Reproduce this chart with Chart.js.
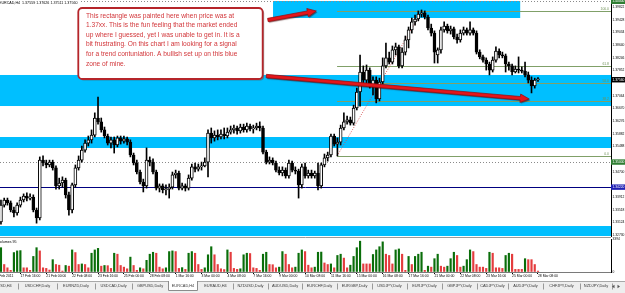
<!DOCTYPE html>
<html>
<head>
<meta charset="utf-8">
<title>EURCAD,H4</title>
<script src="https://cdn.jsdelivr.net/npm/chart.js@4.4.1/dist/chart.umd.min.js"></script>
<style>
  html, body { margin: 0; padding: 0; background: #fff; }
  #wrap { position: relative; width: 625px; height: 293px; overflow: hidden; background: #fff; }
  #wrap canvas { position: absolute; left: 0; }
  #price { top: 0; }
  #volume { top: 237px; }
  #tabs { top: 281px; }
</style>
</head>
<body>
<div id="wrap">
  <canvas id="price" width="625" height="237"></canvas>
  <canvas id="volume" width="625" height="44"></canvas>
  <canvas id="tabs" width="625" height="12"></canvas>
</div>
<script>
// EURCAD H4 bars, 16 Feb 16:00 -> 28 Mar 08:00 2011
const opens = [
  1.3314, 1.3366, 1.3382, 1.3373, 1.3351, 1.3342, 1.3366, 1.3382, 1.3394, 1.3388,
  1.3391, 1.3351, 1.3326, 1.3506, 1.3497, 1.3491, 1.3500, 1.3482, 1.3426, 1.3435,
  1.3444, 1.3398, 1.3351, 1.3429, 1.3482, 1.3506, 1.3537, 1.3559, 1.3569, 1.3584,
  1.3637, 1.3625, 1.3600, 1.3581, 1.3559, 1.3569, 1.3553, 1.3575, 1.3565, 1.3572,
  1.3562, 1.3522, 1.3497, 1.3469, 1.3438, 1.3426, 1.3506, 1.3500, 1.3469, 1.3419,
  1.3426, 1.3413, 1.3416, 1.3422, 1.3460, 1.3466, 1.3419, 1.3426, 1.3419, 1.3450,
  1.3485, 1.3478, 1.3485, 1.3488, 1.3500, 1.3590, 1.3575, 1.3584, 1.3578, 1.3587,
  1.3581, 1.3593, 1.3600, 1.3606, 1.3597, 1.3609, 1.3600, 1.3612, 1.3603, 1.3606,
  1.3612, 1.3606, 1.3531, 1.3500, 1.3506, 1.3497, 1.3475, 1.3466, 1.3475, 1.3457,
  1.3497, 1.3475, 1.3472, 1.3429, 1.3485, 1.3457, 1.3466, 1.3457, 1.3466, 1.3426,
  1.3491, 1.3513, 1.3522, 1.3581, 1.3556, 1.3562, 1.3606, 1.3625, 1.3631, 1.3621,
  1.3668, 1.3718, 1.3780, 1.3755, 1.3786, 1.3740, 1.3755, 1.3696, 1.3749, 1.3799,
  1.3824, 1.3811, 1.3849, 1.3858, 1.3799, 1.3842, 1.3880, 1.3911, 1.3936, 1.3945,
  1.3960, 1.3964, 1.3951, 1.3917, 1.3901, 1.3833, 1.3849, 1.3911, 1.3923, 1.3908,
  1.3914, 1.3889, 1.3880, 1.3901, 1.3911, 1.3901, 1.3911, 1.3901, 1.3842, 1.3827,
  1.3817, 1.3805, 1.3786, 1.3817, 1.3845, 1.3833, 1.3830, 1.3805, 1.3799, 1.3780,
  1.3789, 1.3786, 1.3783, 1.3771, 1.3755, 1.3737, 1.37559
];
const highs = [
  1.3382, 1.3388, 1.3388, 1.3379, 1.3360, 1.3373, 1.3391, 1.3401, 1.3404, 1.3401,
  1.3398, 1.3357, 1.3516, 1.3519, 1.3506, 1.3506, 1.3506, 1.3488, 1.3450, 1.3454,
  1.3450, 1.3407, 1.3435, 1.3491, 1.3519, 1.3550, 1.3569, 1.3581, 1.3600, 1.3653,
  1.3702, 1.3637, 1.3609, 1.3587, 1.3578, 1.3578, 1.3581, 1.3581, 1.3581, 1.3578,
  1.3569, 1.3528, 1.3506, 1.3475, 1.3447, 1.3544, 1.3516, 1.3510, 1.3475, 1.3432,
  1.3432, 1.3429, 1.3432, 1.3469, 1.3475, 1.3472, 1.3435, 1.3432, 1.3460, 1.3494,
  1.3497, 1.3494, 1.3500, 1.3513, 1.3600, 1.3606, 1.3597, 1.3600, 1.3600, 1.3606,
  1.3606, 1.3612, 1.3615, 1.3612, 1.3618, 1.3618, 1.3621, 1.3618, 1.3615, 1.3621,
  1.3625, 1.3612, 1.3537, 1.3516, 1.3513, 1.3503, 1.3485, 1.3485, 1.3482, 1.3506,
  1.3503, 1.3485, 1.3478, 1.3494, 1.3497, 1.3475, 1.3475, 1.3472, 1.3497, 1.3497,
  1.3525, 1.3531, 1.3587, 1.3587, 1.3575, 1.3615, 1.3653, 1.3643, 1.3640, 1.3677,
  1.3730, 1.3833, 1.3799, 1.3802, 1.3793, 1.3765, 1.3765, 1.3761, 1.3824, 1.3870,
  1.3842, 1.3861, 1.3870, 1.3864, 1.3855, 1.3892, 1.3920, 1.3948, 1.3957, 1.3970,
  1.3973, 1.3970, 1.3957, 1.3929, 1.3908, 1.3855, 1.3920, 1.3936, 1.3929, 1.3923,
  1.3920, 1.3898, 1.3911, 1.3920, 1.3917, 1.3936, 1.3917, 1.3908, 1.3849, 1.3833,
  1.3824, 1.3811, 1.3827, 1.3858, 1.3852, 1.3842, 1.3836, 1.3811, 1.3805, 1.3799,
  1.3827, 1.3796, 1.3811, 1.3780, 1.3765, 1.3761, 1.37626
];
const lows = [
  1.3307, 1.3360, 1.3366, 1.3345, 1.3329, 1.3335, 1.3360, 1.3376, 1.3379, 1.3382,
  1.3345, 1.3310, 1.3320, 1.3488, 1.3482, 1.3485, 1.3475, 1.3416, 1.3416, 1.3422,
  1.3388, 1.3335, 1.3342, 1.3422, 1.3475, 1.3500, 1.3531, 1.3550, 1.3559, 1.3578,
  1.3618, 1.3593, 1.3575, 1.3553, 1.3544, 1.3528, 1.3547, 1.3556, 1.3559, 1.3553,
  1.3516, 1.3491, 1.3463, 1.3432, 1.3407, 1.3419, 1.3488, 1.3463, 1.3413, 1.3407,
  1.3404, 1.3398, 1.3388, 1.3416, 1.3450, 1.3413, 1.3413, 1.3410, 1.3413, 1.3444,
  1.3469, 1.3472, 1.3475, 1.3485, 1.3454, 1.3559, 1.3565, 1.3569, 1.3572, 1.3572,
  1.3575, 1.3587, 1.3590, 1.3587, 1.3590, 1.3593, 1.3593, 1.3597, 1.3590, 1.3600,
  1.3597, 1.3525, 1.3494, 1.3494, 1.3491, 1.3469, 1.3460, 1.3457, 1.3450, 1.3450,
  1.3469, 1.3463, 1.3388, 1.3419, 1.3450, 1.3450, 1.3450, 1.3450, 1.3413, 1.3419,
  1.3485, 1.3503, 1.3516, 1.3550, 1.3519, 1.3553, 1.3600, 1.3618, 1.3615, 1.3615,
  1.3662, 1.3674, 1.3746, 1.3746, 1.3730, 1.3709, 1.3684, 1.3690, 1.3743, 1.3793,
  1.3805, 1.3805, 1.3833, 1.3793, 1.3793, 1.3833, 1.3855, 1.3901, 1.3926, 1.3939,
  1.3951, 1.3945, 1.3911, 1.3892, 1.3808, 1.3808, 1.3839, 1.3904, 1.3901, 1.3898,
  1.3883, 1.3870, 1.3873, 1.3895, 1.3895, 1.3895, 1.3895, 1.3836, 1.3821, 1.3811,
  1.3786, 1.3771, 1.3780, 1.3811, 1.3824, 1.3824, 1.3780, 1.3786, 1.3771, 1.3777,
  1.3777, 1.3777, 1.3765, 1.3746, 1.3715, 1.3730, 1.37511
];
const closes = [
  1.3366, 1.3382, 1.3373, 1.3351, 1.3342, 1.3366, 1.3382, 1.3394, 1.3388, 1.3391,
  1.3351, 1.3326, 1.3506, 1.3497, 1.3491, 1.3500, 1.3482, 1.3426, 1.3435, 1.3444,
  1.3398, 1.3351, 1.3429, 1.3482, 1.3506, 1.3537, 1.3559, 1.3569, 1.3584, 1.3637,
  1.3625, 1.3600, 1.3581, 1.3559, 1.3569, 1.3553, 1.3575, 1.3565, 1.3572, 1.3562,
  1.3522, 1.3497, 1.3469, 1.3438, 1.3426, 1.3506, 1.3500, 1.3469, 1.3419, 1.3426,
  1.3413, 1.3416, 1.3422, 1.3460, 1.3466, 1.3419, 1.3426, 1.3419, 1.3450, 1.3485,
  1.3478, 1.3485, 1.3488, 1.3500, 1.3590, 1.3575, 1.3584, 1.3578, 1.3587, 1.3581,
  1.3593, 1.3600, 1.3606, 1.3597, 1.3609, 1.3600, 1.3612, 1.3603, 1.3606, 1.3612,
  1.3606, 1.3531, 1.3500, 1.3506, 1.3497, 1.3475, 1.3466, 1.3475, 1.3457, 1.3497,
  1.3475, 1.3472, 1.3429, 1.3485, 1.3457, 1.3466, 1.3457, 1.3466, 1.3426, 1.3491,
  1.3513, 1.3522, 1.3581, 1.3556, 1.3562, 1.3606, 1.3625, 1.3631, 1.3621, 1.3668,
  1.3718, 1.3780, 1.3755, 1.3786, 1.3740, 1.3755, 1.3696, 1.3749, 1.3799, 1.3824,
  1.3811, 1.3849, 1.3858, 1.3799, 1.3842, 1.3880, 1.3911, 1.3936, 1.3945, 1.3960,
  1.3964, 1.3951, 1.3917, 1.3901, 1.3842, 1.3849, 1.3911, 1.3923, 1.3908, 1.3914,
  1.3889, 1.3880, 1.3901, 1.3911, 1.3901, 1.3911, 1.3901, 1.3842, 1.3827, 1.3817,
  1.3805, 1.3786, 1.3817, 1.3845, 1.3833, 1.3830, 1.3805, 1.3799, 1.3780, 1.3789,
  1.3786, 1.3783, 1.3771, 1.3755, 1.3737, 1.3755, 1.37560
];
const volumes = [
  2500, 770, 430, 170, 2000, 2170, 2200, 430, 430, 170,
  1600, 2500, 2170, 430, 370, 200, 1270, 770, 700, 100,
  670, 600, 2270, 2000, 770, 830, 770, 430, 1930, 2270,
  2430, 600, 670, 650, 370, 1930, 1830, 670, 500, 330,
  1530, 670, 170, 430, 330, 1200, 1830, 2030, 1930, 500,
  330, 430, 2100, 2170, 2100, 370, 450, 270, 1930, 2100,
  1930, 770, 270, 430, 1770, 2600, 1770, 770, 330, 250,
  2270, 2030, 370, 270, 330, 1770, 1930, 1900, 430, 370,
  170, 1830, 2030, 770, 750, 430, 500, 2100, 1830, 770,
  430, 500, 1930, 2270, 2100, 700, 430, 500, 2030, 2050,
  930, 770, 830, 430, 1700, 1830, 1430, 430, 700, 1600,
  2500, 3170, 830, 830, 830, 1800, 2270, 2600, 3100, 1830,
  1700, 830, 2270, 2370, 1830, 170, 1600, 770, 1600, 1830,
  2030, 170, 600, 500, 1370, 1830, 600, 500, 600, 1370,
  2030, 1700, 500, 600, 1270, 2270, 2100, 770, 500, 500,
  370, 2030, 1930, 430, 430, 370, 1700, 1930, 1830, 270,
  270, 270, 1370, 1270, 1270, 770, 95
];

// price scale labels (MT4 puts them at fixed pixel steps, so they are not round)
const priceTicks = [1.39822, 1.39428, 1.39034, 1.38640, 1.38246, 1.37852, 1.37064, 1.36670,
  1.36276, 1.35882, 1.35488, 1.34700, 1.33912, 1.33518, 1.33124, 1.32730];
const volumeTicks = [0, 3394];
const dateTickIdx = [-2, 6, 14, 22, 30, 38, 46, 54, 62, 70, 78, 86, 94, 102, 110, 118, 126, 134, 142, 150, 158, 166];
const dateTickText = ['16 Feb 2011', '17 Feb 16:00', '21 Feb 00:00', '22 Feb 08:00', '23 Feb 16:00', '25 Feb 00:00',
  '28 Feb 08:00', '1 Mar 16:00', '3 Mar 00:00', '4 Mar 08:00', '7 Mar 16:00', '9 Mar 00:00', '10 Mar 08:00',
  '11 Mar 16:00', '15 Mar 00:00', '16 Mar 08:00', '17 Mar 16:00', '21 Mar 00:00', '22 Mar 08:00',
  '23 Mar 16:00', '25 Mar 00:00', '28 Mar 08:00'];

// drawn objects on the chart, in bar index / price units
const zones = [
  { lo: 1.39480, hi: 1.40009, from: 84.1, to: 160.5 },
  { lo: 1.36743, hi: 1.37708 },
  { lo: 1.35437, hi: 1.35779 },
  { lo: 1.32700, hi: 1.33011 }
];
const hLines = [
  { price: 1.40000, color: '#8a8a8a', dash: [1, 2] },
  { price: 1.35000, color: '#8a8a8a', dash: [1, 2] },
  { price: 1.34220, color: '#000080', dash: [] }
];
const fibo = { from: 103.9, to: 130.2, low: 1.3519, high: 1.3970, levels: [0, 38.2, 50, 61.8, 100] };
const axisTags = [
  { price: 1.40000, bg: '#2f7d32' },
  { price: 1.37560, bg: '#000000' },
  { price: 1.35000, bg: '#2f7d32' },
  { price: 1.34220, bg: '#1f1fb4' }
];
const noteBox = { x0: 23.9, x1: 80.9, top: 1.39791, bottom: 1.37583 };
const noteLines = [
  'This rectangle was painted here when price was at',
  '1.37xx. This is the fun feeling that the market ended',
  'up where I guessed, yet I was unable to get in. It is a',
  'bit frustrating. On this chart I am looking for a signal',
  'for a trend contuniation. A bullish set up on this blue',
  'zone of mine.'
];
const arrows = [
  { x0: 82.5, p0: 1.39418, x1: 97.5, p1: 1.39698 },
  { x0: 82.0, p0: 1.37676, x1: 163.3, p1: 1.36961 }
];
const header = 'EURCAD,H4  1.37559 1.37626 1.37511 1.37560';
const tabNames = ['EURUSD,H4', 'USDCHF,Daily', 'EURNZD,Daily', 'USDCAD,Daily', 'GBPUSD,Daily', 'EURCAD,H4',
  'EURAUD,H4', 'NZDUSD,Daily', 'AUDUSD,Daily', 'EURCHF,Daily', 'EURGBP,Daily', 'USDJPY,Daily',
  'EURJPY,Daily', 'GBPJPY,Daily', 'CADJPY,Daily', 'AUDJPY,Daily', 'CHFJPY,Daily', 'NZDJPY,Daily'];
const activeTab = 5;

const FONT = '"Liberation Sans", Arial, sans-serif';
const ZONE = 'rgb(0,191,255)';
const BAR_STEP = 3.235;               // px per H4 bar
const PLOT_W = 611;
const X_MIN = -0.3;
const X_MAX = X_MIN + PLOT_W / BAR_STEP;
const PRICE_MAX = 1.4004;
const PRICE_MIN = PRICE_MAX - 237 * 0.000311;
const VOL_MAX = 3394;

Chart.defaults.font.family = FONT;
const idx = closes.map((_, i) => i);

function rightAxis(width) {
  return (s) => { s.width = width; s.paddingTop = 0; s.paddingBottom = 0; };
}

function drawArrow(ctx, x0, y0, x1, y1) {
  const a = Math.atan2(y1 - y0, x1 - x0);
  const c = Math.cos(a), s = Math.sin(a);
  const w = 1.7, hl = 9, hw = 4.2;
  const bx = x1 - hl * c, by = y1 - hl * s;
  ctx.beginPath();
  ctx.moveTo(x0 + s * w, y0 - c * w);
  ctx.lineTo(bx + s * w, by - c * w);
  ctx.lineTo(bx + s * hw, by - c * hw);
  ctx.lineTo(x1, y1);
  ctx.lineTo(bx - s * hw, by + c * hw);
  ctx.lineTo(bx - s * w, by + c * w);
  ctx.lineTo(x0 - s * w, y0 + c * w);
  ctx.closePath();
  ctx.save();
  ctx.shadowColor = 'rgba(60,0,0,0.55)';
  ctx.shadowOffsetX = 1;
  ctx.shadowOffsetY = 1.2;
  ctx.shadowBlur = 1;
  ctx.fillStyle = '#e3161b';
  ctx.fill();
  ctx.restore();
  ctx.strokeStyle = '#8e0d10';
  ctx.lineWidth = 0.7;
  ctx.stroke();
}

const overlay = {
  id: 'overlay',
  beforeDatasetsDraw(chart) {
    const { ctx, chartArea: a, scales: { x, y } } = chart;
    ctx.save();
    ctx.beginPath();
    ctx.rect(a.left, a.top, a.right - a.left, a.bottom - a.top);
    ctx.clip();

    ctx.fillStyle = ZONE;
    zones.forEach(z => {
      const x0 = z.from == null ? a.left : x.getPixelForValue(z.from);
      const x1 = z.to == null ? a.right : x.getPixelForValue(z.to);
      const y0 = y.getPixelForValue(z.hi), y1 = y.getPixelForValue(z.lo);
      ctx.fillRect(x0, y0, x1 - x0, y1 - y0);
    });

    ctx.lineWidth = 1;
    hLines.forEach(l => {
      const py = Math.round(y.getPixelForValue(l.price)) + 0.5;
      ctx.strokeStyle = l.color;
      ctx.setLineDash(l.dash);
      ctx.beginPath();
      ctx.moveTo(a.left, py);
      ctx.lineTo(a.right, py);
      ctx.stroke();
    });

    // fibonacci retracement
    const fx0 = x.getPixelForValue(fibo.from), fx1 = x.getPixelForValue(fibo.to);
    ctx.setLineDash([]);
    ctx.strokeStyle = 'rgb(128,160,104)';
    ctx.fillStyle = 'rgb(112,146,88)';
    ctx.font = '3.4px ' + FONT;
    ctx.textAlign = 'right';
    ctx.textBaseline = 'bottom';
    fibo.levels.forEach(lv => {
      const py = Math.round(y.getPixelForValue(fibo.low + (fibo.high - fibo.low) * lv / 100)) + 0.5;
      ctx.beginPath();
      ctx.moveTo(fx0, py);
      ctx.lineTo(a.right, py);
      ctx.stroke();
      ctx.fillText(lv.toFixed(1), a.right - 2, py - 0.5);
    });
    ctx.strokeStyle = 'rgba(214,70,70,0.85)';
    ctx.setLineDash([1, 1.5]);
    ctx.beginPath();
    ctx.moveTo(fx0, y.getPixelForValue(fibo.low));
    ctx.lineTo(fx1, y.getPixelForValue(fibo.high));
    ctx.stroke();
    ctx.restore();
  },
  afterDatasetsDraw(chart) {
    const { ctx, scales: { x, y } } = chart;
    ctx.save();

    // header
    ctx.fillStyle = '#fff';
    ctx.fillRect(0, 0, 80, 4.5);
    ctx.fillStyle = '#000';
    ctx.font = '3.65px ' + FONT;
    ctx.textBaseline = 'middle';
    ctx.textAlign = 'left';
    ctx.fillText(header, -1, 2.6);

    // note box
    const bx0 = x.getPixelForValue(noteBox.x0), bx1 = x.getPixelForValue(noteBox.x1);
    const by0 = y.getPixelForValue(noteBox.top), by1 = y.getPixelForValue(noteBox.bottom);
    ctx.fillStyle = 'rgba(90,90,90,0.55)';
    ctx.beginPath();
    ctx.roundRect(bx0 + 1.5, by0 + 1.5, bx1 - bx0, by1 - by0, 4);
    ctx.fill();
    ctx.fillStyle = '#fff';
    ctx.strokeStyle = '#b5252a';
    ctx.lineWidth = 1.8;
    ctx.beginPath();
    ctx.roundRect(bx0, by0, bx1 - bx0, by1 - by0, 4);
    ctx.fill();
    ctx.stroke();
    ctx.fillStyle = '#d2363a';
    ctx.font = '6.6px ' + FONT;
    noteLines.forEach((t, k) => ctx.fillText(t, bx0 + 7.7, by0 + 7.8 + k * 9.6));

    arrows.forEach(ar => drawArrow(ctx,
      x.getPixelForValue(ar.x0), y.getPixelForValue(ar.p0),
      x.getPixelForValue(ar.x1), y.getPixelForValue(ar.p1)));
    ctx.restore();
  },
  afterDraw(chart) {
    const { ctx, chartArea: a, scales: { y } } = chart;
    ctx.save();
    ctx.font = '3.3px ' + FONT;
    ctx.textBaseline = 'middle';
    ctx.textAlign = 'left';
    axisTags.forEach(t => {
      const py = y.getPixelForValue(t.price);
      ctx.fillStyle = t.bg;
      ctx.fillRect(a.right, py - 2.7, 625 - a.right, 5.4);
      ctx.fillStyle = '#fff';
      ctx.fillText(t.price.toFixed(5), a.right + 1.5, py);
    });
    ctx.restore();
  }
};

new Chart(document.getElementById('price'), {
  type: 'bar',
  data: {
    datasets: [
      {
        label: 'wick',
        data: idx.map(i => ({ x: i, y: [lows[i], highs[i]] })),
        backgroundColor: '#000',
        barThickness: 1,
        grouped: false,
        order: 2
      },
      {
        label: 'body',
        data: idx.map(i => ({ x: i, y: [opens[i], closes[i]] })),
        backgroundColor: idx.map(i => closes[i] >= opens[i] ? '#fff' : '#000'),
        borderColor: '#000',
        borderWidth: 1,
        borderSkipped: false,
        barThickness: 3,
        minBarLength: 1,
        grouped: false,
        order: 1
      }
    ]
  },
  options: {
    responsive: false,
    animation: false,
    events: [],
    layout: { padding: 0 },
    plugins: { legend: { display: false }, tooltip: { enabled: false } },
    scales: {
      x: { type: 'linear', min: X_MIN, max: X_MAX, offset: false, display: false },
      y: {
        type: 'linear',
        position: 'right',
        min: PRICE_MIN,
        max: PRICE_MAX,
        bounds: 'data',
        afterBuildTicks: (s) => { s.ticks = priceTicks.map(v => ({ value: v })); },
        afterFit: rightAxis(14),
        ticks: {
          autoSkip: false,
          padding: 0.5,
          color: '#000',
          font: { size: 3.3, family: FONT },
          callback: (v) => v.toFixed(5)
        },
        grid: { drawOnChartArea: false, drawTicks: true, tickLength: 1, color: '#000' },
        border: { display: true, color: '#000' }
      }
    }
  },
  plugins: [overlay]
});

const volumePane = {
  id: 'volumePane',
  afterDraw(chart) {
    const { ctx, chartArea: a } = chart;
    ctx.save();
    ctx.strokeStyle = '#9a9a9a';
    ctx.lineWidth = 1;
    ctx.beginPath();
    ctx.moveTo(0, 0.5);
    ctx.lineTo(a.right, 0.5);
    ctx.stroke();
    ctx.fillStyle = '#000';
    ctx.font = '3.65px ' + FONT;
    ctx.textBaseline = 'middle';
    ctx.fillText('Volumes ' + volumes[volumes.length - 1], -2.4, a.top + 2.6);
    ctx.restore();
  }
};

new Chart(document.getElementById('volume'), {
  type: 'bar',
  data: {
    datasets: [{
      label: 'Volumes',
      data: idx.map(i => ({ x: i, y: volumes[i] })),
      backgroundColor: idx.map(i => (i === 0 || volumes[i] > volumes[i - 1]) ? '#0a6e0a' : '#e43c3e'),
      barThickness: 1.5,
      grouped: false
    }]
  },
  options: {
    responsive: false,
    animation: false,
    events: [],
    layout: { padding: { top: 2, left: 0, right: 0, bottom: 0 } },
    plugins: { legend: { display: false }, tooltip: { enabled: false } },
    scales: {
      x: {
        type: 'linear',
        min: X_MIN,
        max: X_MAX,
        offset: false,
        position: 'bottom',
        afterBuildTicks: (s) => { s.ticks = dateTickIdx.map(v => ({ value: v })); },
        afterFit: (s) => { s.height = 9; s.paddingLeft = 0; s.paddingRight = 0; },
        ticks: {
          autoSkip: false,
          maxRotation: 0,
          minRotation: 0,
          align: 'start',
          padding: 0.5,
          color: '#000',
          font: { size: 3.4, family: FONT },
          callback: (v) => dateTickText[dateTickIdx.indexOf(v)]
        },
        grid: { drawOnChartArea: false, drawTicks: true, tickLength: 2, color: '#000', offset: false },
        border: { display: true, color: '#7a7a7a' }
      },
      y: {
        type: 'linear',
        position: 'right',
        min: 0,
        max: VOL_MAX,
        bounds: 'data',
        afterBuildTicks: (s) => { s.ticks = volumeTicks.map(v => ({ value: v })); },
        afterFit: rightAxis(14),
        ticks: {
          autoSkip: false,
          padding: 0.5,
          color: '#000',
          font: { size: 3.3, family: FONT },
          callback: (v) => String(v)
        },
        grid: { drawOnChartArea: false, drawTicks: true, tickLength: 1, color: '#000' },
        border: { display: true, color: '#000' }
      }
    }
  },
  plugins: [volumePane]
});

// terminal tab strip
(function drawTabs() {
  const tabEdges = [-17, 18, 57, 95, 132, 168, 198, 233, 268, 302, 337, 372, 407, 442, 477, 508, 543, 580, 612];
  const t = document.getElementById('tabs').getContext('2d');
  t.fillStyle = '#eeeeee';
  t.fillRect(0, 0, 625, 12);
  t.strokeStyle = '#a8a8a8';
  t.lineWidth = 1;
  t.beginPath();
  t.moveTo(0, 0.5);
  t.lineTo(625, 0.5);
  t.stroke();

  const ax0 = tabEdges[activeTab], ax1 = tabEdges[activeTab + 1];
  t.fillStyle = '#fff';
  t.fillRect(ax0, 0, ax1 - ax0, 10);
  t.strokeStyle = '#8c8c8c';
  t.beginPath();
  t.moveTo(ax0 + 0.5, 0);
  t.lineTo(ax0 + 0.5, 9.5);
  t.lineTo(ax1 - 0.5, 9.5);
  t.lineTo(ax1 - 0.5, 0);
  t.stroke();

  t.strokeStyle = '#9a9a9a';
  tabEdges.forEach((e, k) => {
    if (k === activeTab || k === activeTab + 1 || e < 0) return;
    t.beginPath();
    t.moveTo(e + 0.5, 2.5);
    t.lineTo(e + 0.5, 8.5);
    t.stroke();
  });

  t.fillStyle = '#3a3a3a';
  t.font = '3.9px ' + FONT;
  t.textAlign = 'center';
  t.textBaseline = 'middle';
  tabNames.forEach((n, k) => t.fillText(n, (tabEdges[k] + tabEdges[k + 1]) / 2, 5.2));

  t.fillStyle = '#555';
  t.beginPath();
  t.moveTo(612, 5.5); t.lineTo(614.5, 3.8); t.lineTo(614.5, 7.2); t.closePath();
  t.moveTo(620, 5.5); t.lineTo(617.5, 3.8); t.lineTo(617.5, 7.2); t.closePath();
  t.fill();
})();
</script>
</body>
</html>
